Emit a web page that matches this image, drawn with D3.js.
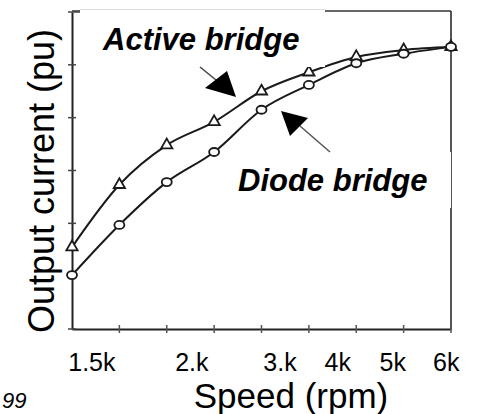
<!DOCTYPE html>
<html>
<head>
<meta charset="UTF-8">
<title></title>
<style>
  body { margin: 0; background: #fff; }
  text { font-family: "Liberation Sans", Arial, sans-serif; }
</style>
</head>
<body>
<div id="chart"></div>
<script src="https://d3js.org/d3.v7.min.js"></script>
<script>
// speed steps (equally spaced grid points on the x axis)
var steps = [0, 1, 2, 3, 4, 5, 6, 7, 8];
// output current, pu
var activeBridge = [0.310, 0.546, 0.696, 0.784, 0.900, 0.972, 1.030, 1.056, 1.068];
var diodeBridge  = [0.204, 0.394, 0.556, 0.670, 0.830, 0.924, 1.006, 1.042, 1.068];
// tick labels as printed, with where they sit in step units
var tickLabels = ["1.5k", "2.k", "3.k", "4k", "5k", "6k"];
var tickLabelAt = [0.42, 2.53, 4.39, 5.61, 6.77, 7.9];
var yTicks = [0, 0.2, 0.4, 0.6, 0.8, 1.0, 1.2];

var width = 478, height = 414;
var svg = d3.select("#chart").append("svg")
  .attr("width", width).attr("height", height);

var x = d3.scaleLinear().domain([0, 8]).range([72, 451]);
var y = d3.scaleLinear().domain([0, 1.2]).range([329, 12]);

// frame (right + top)
svg.append("line").attr("x1", x(8)).attr("x2", x(8)).attr("y1", y(1.2) - 1).attr("y2", y(0))
  .attr("stroke", "#555").attr("stroke-width", 2);
svg.append("line").attr("x1", x(0)).attr("x2", x(8)).attr("y1", y(1.2) - 1).attr("y2", y(1.2) - 1)
  .attr("stroke", "#333").attr("stroke-width", 1.5);

// axes
var xAxis = d3.axisBottom(x).tickValues(steps).tickSize(0).tickFormat("");
svg.append("g").attr("transform", "translate(0," + y(0) + ")").call(xAxis)
  .call(function(g) { g.select(".domain").attr("stroke", "#222").attr("stroke-width", 2); });
svg.append("g").selectAll("line").data(steps.slice(1)).join("line")
  .attr("x1", function(d) { return x(d); }).attr("x2", function(d) { return x(d); })
  .attr("y1", y(0) - 4).attr("y2", y(0) + 4)
  .attr("stroke", "#555").attr("stroke-width", 1.5);

var yAxis = d3.axisLeft(y).tickValues(yTicks).tickSize(0).tickFormat("");
svg.append("g").attr("transform", "translate(" + x(0) + ",0)").call(yAxis)
  .call(function(g) { g.select(".domain").attr("stroke", "#222").attr("stroke-width", 2); });
svg.append("g").selectAll("line").data(yTicks).join("line")
  .attr("x1", x(0) - 4).attr("x2", function(d) { return d === 1.2 ? x(0) + 8 : x(0) + 4; })
  .attr("y1", function(d) { return y(d); }).attr("y2", function(d) { return y(d); })
  .attr("stroke", "#444").attr("stroke-width", 1.5);

// curves
var line = d3.line().x(function(d, i) { return x(steps[i]); }).y(function(d) { return y(d); })
  .curve(d3.curveMonotoneX);
[activeBridge, diodeBridge].forEach(function(s) {
  svg.append("path").datum(s).attr("d", line)
    .attr("fill", "none").attr("stroke", "#1a1a1a").attr("stroke-width", 2);
});

// markers
svg.append("g").selectAll("path").data(activeBridge).join("path")
  .attr("d", d3.symbol(d3.symbolTriangle, 55))
  .attr("transform", function(d, i) { return "translate(" + x(steps[i]) + "," + y(d) + ")"; })
  .attr("fill", "#fff").attr("stroke", "#1a1a1a").attr("stroke-width", 1.8);
svg.append("g").selectAll("ellipse").data(diodeBridge).join("ellipse")
  .attr("cx", function(d, i) { return x(steps[i]); })
  .attr("cy", function(d) { return y(d); })
  .attr("rx", 5).attr("ry", 4)
  .attr("fill", "#fff").attr("stroke", "#1a1a1a").attr("stroke-width", 1.8);

// label boxes
svg.append("rect").attr("x", 80).attr("y", 10).attr("width", 245).attr("height", 57).attr("fill", "#fff");
svg.append("line").attr("x1", 80).attr("x2", 325).attr("y1", 9.5).attr("y2", 9.5)
  .attr("stroke", "#ddd").attr("stroke-width", 1);
svg.append("rect").attr("x", 226).attr("y", 152).attr("width", 225).attr("height", 56).attr("fill", "#fff");

// arrows
svg.append("line").attr("x1", 200).attr("y1", 67).attr("x2", 216).attr("y2", 80)
  .attr("stroke", "#444").attr("stroke-width", 1.5);
svg.append("path").attr("d", "M205,88L227,71L236,97Z").attr("fill", "#000");
svg.append("line").attr("x1", 300).attr("y1", 126).attr("x2", 330).attr("y2", 152)
  .attr("stroke", "#555").attr("stroke-width", 1.5);
svg.append("path").attr("d", "M281,111L308,118L290,136Z").attr("fill", "#000");

// annotation text
svg.append("text").attr("x", 103).attr("y", 50)
  .attr("font-size", 31).attr("font-weight", "bold").attr("font-style", "italic")
  .text("Active bridge");
svg.append("text").attr("x", 238).attr("y", 191)
  .attr("font-size", 31).attr("font-weight", "bold").attr("font-style", "italic")
  .text("Diode bridge");

// tick labels
svg.append("g").selectAll("text").data(tickLabels).join("text")
  .attr("x", function(d, i) { return x(tickLabelAt[i]); })
  .attr("y", 371).attr("text-anchor", "middle").attr("font-size", 25)
  .text(function(d) { return d; });

// axis titles
svg.append("text").attr("x", 291).attr("y", 408).attr("text-anchor", "middle")
  .attr("font-size", 35).text("Speed (rpm)");
svg.append("text").attr("transform", "translate(54,181) rotate(-90)")
  .attr("text-anchor", "middle").attr("font-size", 36).text("Output current (pu)");

svg.append("text").attr("x", 2).attr("y", 408)
  .attr("font-size", 22).attr("font-style", "italic").text("99");
</script>
</body>
</html>
